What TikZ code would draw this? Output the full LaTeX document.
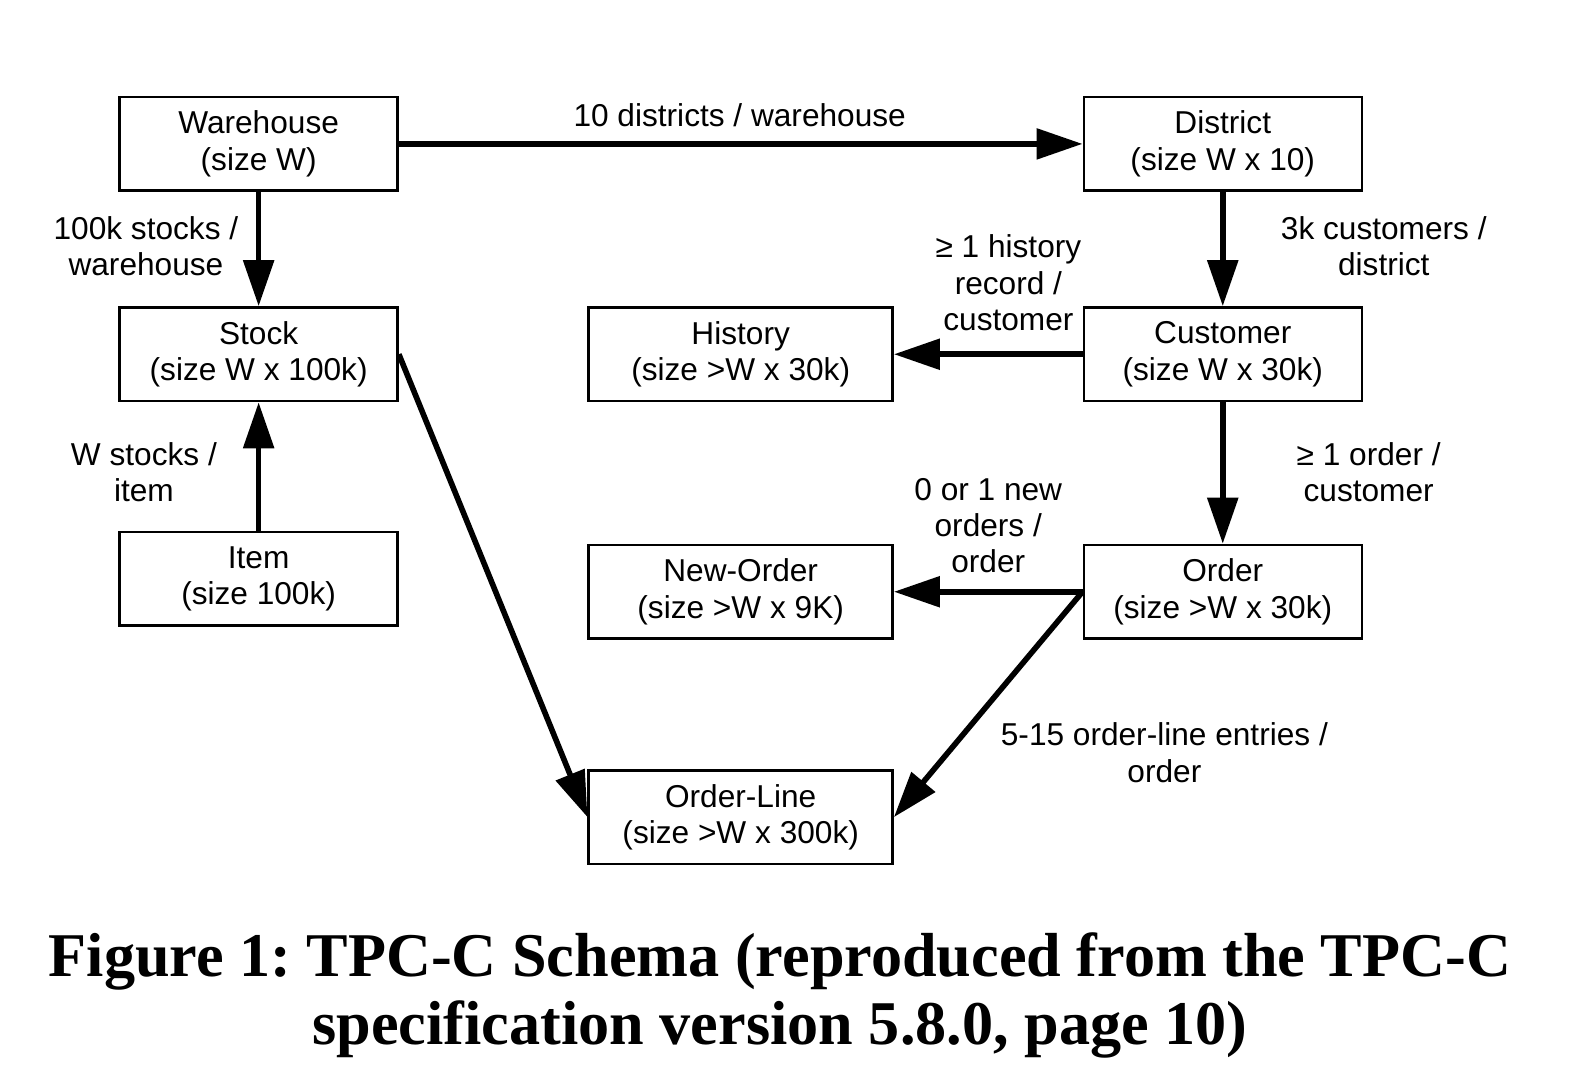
\documentclass[tikz,border=0pt]{standalone}
\usepackage{fontspec}
\setmainfont{Liberation Sans}
\newfontfamily\captionfont{Liberation Serif}
\usetikzlibrary{arrows.meta,positioning}
\frenchspacing
\tikzset{
  table/.style     = {draw, line width=0.7pt, rectangle, minimum height=9.36mm,
                      minimum width=27.8mm, align=center, inner sep=0pt},
  widetable/.style = {table, minimum width=30.4mm},
  rel/.style       = {-{Triangle[length=4.6mm,width=3mm]}, line width=1.6pt},
  lbl/.style       = {align=center, inner sep=0pt},
}

\begin{document}
\begin{tikzpicture}[x=0.10064mm,y=-0.10064mm,font=\fontsize{9pt}{10.3pt}\selectfont]
\useasboundingbox (0,0) rectangle (1568,1083);
% tables
\node[table]     (wh)   at (257,143)  {Warehouse\\(size W)};
\node[table]     (dist) at (1215,143) {District\\(size W x 10)};
\node[table]     (stk)  at (257,352)  {Stock\\(size W x 100k)};
\node[table]     (itm)  at (257,575)  {Item\\(size 100k)};
\node[widetable] (hist) at (736,352)  {History\\(size >W x 30k)};
\node[table]     (cust) at (1215,352) {Customer\\(size W x 30k)};
\node[widetable] (nord) at (736,588)  {New-Order\\(size >W x 9K)};
\node[table]     (ord)  at (1215,588) {Order\\(size >W x 30k)};
\node[widetable] (oln)  at (736,812)  {Order-Line\\(size >W x 300k)};
% relations
\draw[rel] (wh) -- (dist);
\draw[rel] (wh) -- (stk);
\draw[rel] (itm) -- (stk);
\draw[rel] (dist) -- (cust);
\draw[rel] (cust) -- (hist);
\draw[rel] (cust) -- (ord);
\draw[rel] (ord) -- (nord);
\draw[rel] (ord.west) -- (oln.east);
\draw[rel] (stk.east) -- (oln.west);
% cardinalities
\node[lbl] (lwd) at (735,114)  {10 districts / warehouse};
\node[lbl] (lws) at (145,245)  {100k stocks /\\warehouse};
\node[lbl] (lis) at (143,469)  {W stocks /\\item};
\node[lbl] (ldc) at (1375,245) {3k customers /\\district};
\node[lbl] (lch) at (1002,281) {≥ 1 history\\record /\\customer};
\node[lbl] (lco) at (1360,469) {≥ 1 order /\\customer};
\node[lbl] (lon) at (982,522)  {0 or 1 new\\orders /\\order};
\node[lbl] (lol) at (1157,748) {5-15 order-line entries /\\order};
% caption
\node[lbl,font=\captionfont\bfseries\fontsize{17.7pt}{19.4pt}\selectfont] (cap) at (775,989)
  {Figure 1: TPC-C Schema (reproduced from the TPC-C\\specification version 5.8.0, page 10)};
\end{tikzpicture}
\end{document}
